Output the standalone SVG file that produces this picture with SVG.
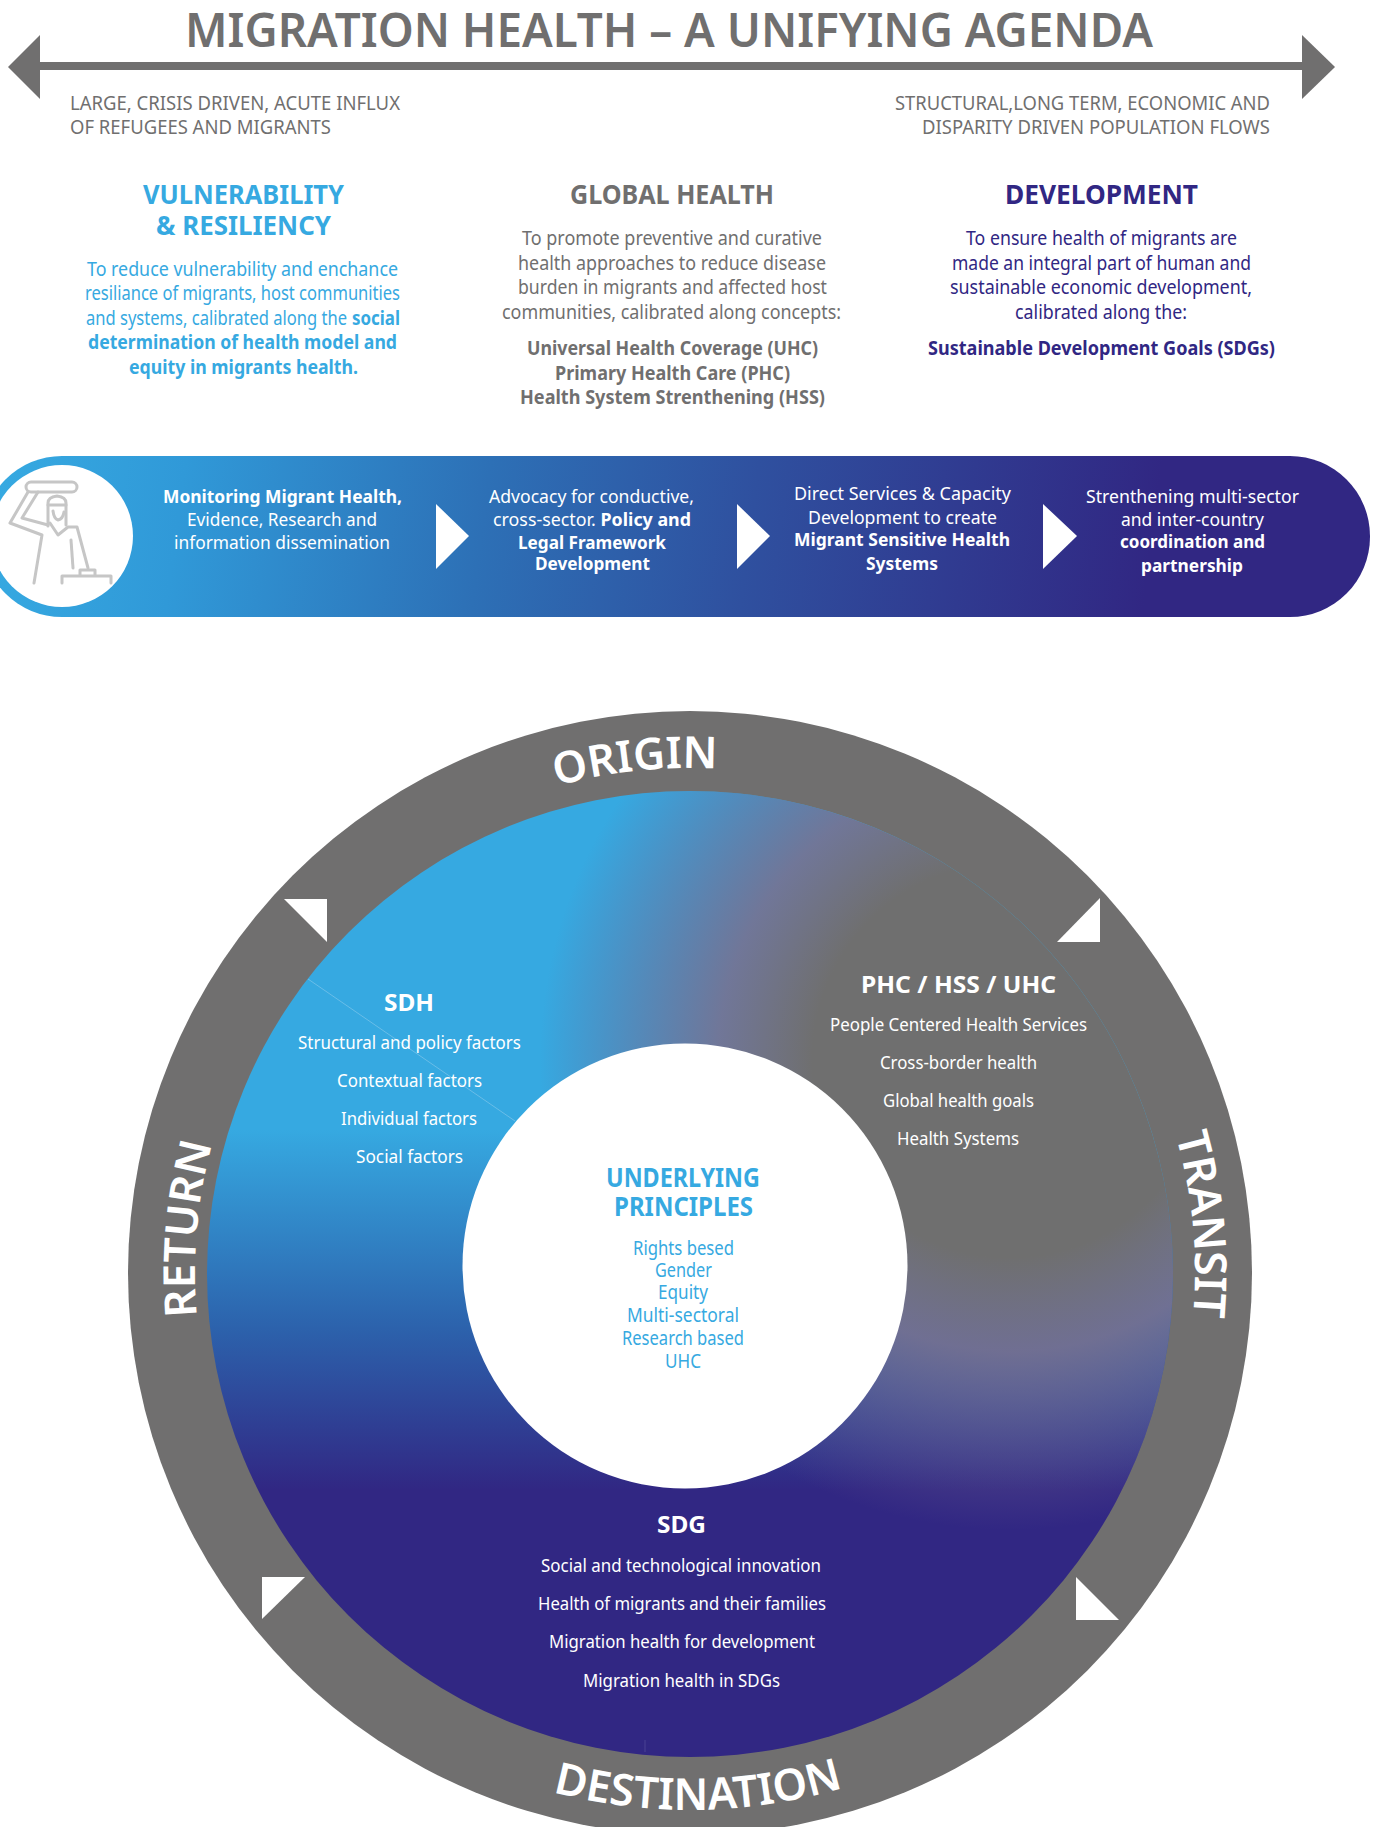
<svg xmlns="http://www.w3.org/2000/svg" width="1376" height="1827" viewBox="0 0 1376 1827">
<style>
text{font-family:"Noto Sans","Open Sans","Liberation Sans",sans-serif}
.g{fill:#706f6f}.b{fill:#36a9e1}.p{fill:#312783}.w{fill:#fff}
.h{font-size:26px;font-weight:700}
.t{font-size:19px}
.x{font-weight:700}
.band{font-size:18.5px;fill:#fff}
.lab{font-size:18px;fill:#fff}
.sub{font-size:24px;font-weight:700;fill:#fff}
.ring{font-size:44px;font-weight:600;fill:#fff}
.tri{fill:#fff}
.ico{fill:none;stroke:#c6c6c6;stroke-width:3;stroke-linecap:round;stroke-linejoin:round}
</style>
<defs>
<linearGradient id="bandG" gradientUnits="userSpaceOnUse" x1="0" y1="480" x2="1200" y2="640">
<stop offset="0" stop-color="#36a9e1"/><stop offset=".15" stop-color="#3099d8"/><stop offset=".4" stop-color="#2d70b6"/><stop offset=".62" stop-color="#2f509f"/><stop offset=".95" stop-color="#312783"/>
</linearGradient>
<linearGradient id="discG" gradientUnits="userSpaceOnUse" x1="0" y1="1130" x2="0" y2="1490">
<stop offset="0" stop-color="#36a9e1"/><stop offset=".55" stop-color="#2c62ac"/><stop offset="1" stop-color="#312783"/>
</linearGradient>
<radialGradient id="discR" gradientUnits="userSpaceOnUse" cx="1010" cy="1060" r="470">
<stop offset="0" stop-color="#6f6f6f"/><stop offset=".42" stop-color="#6f6f6f"/><stop offset=".62" stop-color="#777190" stop-opacity=".9"/><stop offset="1" stop-color="#6f5f90" stop-opacity="0"/>
</radialGradient>
<path id="cw" d="M690 1778A505 505 0 1 1 690 768A505 505 0 1 1 690 1778"/>
<path id="cwR" d="M690 1768A495 495 0 1 1 690 778A495 495 0 1 1 690 1768"/>
<path id="ccw" d="M153 1273A537 537 0 1 0 1227 1273"/>
</defs>

<g id="title">
<text x="185" y="47" textLength="968" lengthAdjust="spacingAndGlyphs" font-size="47" font-weight="600" class="g">MIGRATION HEALTH – A UNIFYING AGENDA</text>
</g>
<g id="connectors">
<rect x="38" y="62" width="1266" height="8" class="g"/>
<polygon points="8,67 40,35 40,99" class="g"/>
<polygon points="1302,35 1335,67 1302,99" class="g"/>
</g>
<g id="axis-labels" font-size="19" class="g">
<text x="70" y="110" textLength="330" lengthAdjust="spacingAndGlyphs" class="t g">LARGE, CRISIS DRIVEN, ACUTE INFLUX</text>
<text x="70" y="134" textLength="261" lengthAdjust="spacingAndGlyphs" class="t g">OF REFUGEES AND MIGRANTS</text>
<text x="895" y="110" textLength="375" lengthAdjust="spacingAndGlyphs" class="t g">STRUCTURAL,LONG TERM, ECONOMIC AND</text>
<text x="922" y="134" textLength="348" lengthAdjust="spacingAndGlyphs" class="t g">DISPARITY DRIVEN POPULATION FLOWS</text>
</g>

<g id="col-vulnerability">
<text x="143" y="204" textLength="201" lengthAdjust="spacingAndGlyphs" class="h b">VULNERABILITY</text>
<text x="156" y="235" textLength="175" lengthAdjust="spacingAndGlyphs" class="h b">&amp; RESILIENCY</text>
<text x="87" y="276" textLength="311" lengthAdjust="spacingAndGlyphs" class="t b">To reduce vulnerability and enchance</text>
<text x="85" y="300" textLength="315" lengthAdjust="spacingAndGlyphs" class="t b">resiliance of migrants, host communities</text>
<text x="86" y="325" textLength="261" lengthAdjust="spacingAndGlyphs" class="t b">and systems, calibrated along the</text>
<text x="352" y="325" textLength="48" lengthAdjust="spacingAndGlyphs" class="t x b">social</text>
<text x="88" y="349" textLength="309" lengthAdjust="spacingAndGlyphs" class="t x b">determination of health model and</text>
<text x="129" y="374" textLength="229" lengthAdjust="spacingAndGlyphs" class="t x b">equity in migrants health.</text>
</g>
<g id="col-global">
<text x="570" y="204" textLength="204" lengthAdjust="spacingAndGlyphs" class="h g">GLOBAL HEALTH</text>
<text x="522" y="245" textLength="300" lengthAdjust="spacingAndGlyphs" class="t g">To promote preventive and curative</text>
<text x="518" y="270" textLength="308" lengthAdjust="spacingAndGlyphs" class="t g">health approaches to reduce disease</text>
<text x="518" y="294" textLength="309" lengthAdjust="spacingAndGlyphs" class="t g">burden in migrants and affected host</text>
<text x="502" y="319" textLength="339" lengthAdjust="spacingAndGlyphs" class="t g">communities, calibrated along concepts:</text>
<text x="527" y="355" textLength="291" lengthAdjust="spacingAndGlyphs" class="t x g">Universal Health Coverage (UHC)</text>
<text x="555" y="380" textLength="235" lengthAdjust="spacingAndGlyphs" class="t x g">Primary Health Care (PHC)</text>
<text x="520" y="404" textLength="305" lengthAdjust="spacingAndGlyphs" class="t x g">Health System Strenthening (HSS)</text>
</g>
<g id="col-development">
<text x="1005" y="204" textLength="193" lengthAdjust="spacingAndGlyphs" class="h p">DEVELOPMENT</text>
<text x="966" y="245" textLength="271" lengthAdjust="spacingAndGlyphs" class="t p">To ensure health of migrants are</text>
<text x="952" y="270" textLength="299" lengthAdjust="spacingAndGlyphs" class="t p">made an integral part of human and</text>
<text x="950" y="294" textLength="302" lengthAdjust="spacingAndGlyphs" class="t p">sustainable economic development,</text>
<text x="1015" y="319" textLength="172" lengthAdjust="spacingAndGlyphs" class="t p">calibrated along the:</text>
<text x="928" y="355" textLength="347" lengthAdjust="spacingAndGlyphs" class="t x p">Sustainable Development Goals (SDGs)</text>
</g>

<g id="band">
<rect x="-18" y="456" width="1388" height="161" rx="80" fill="url(#bandG)"/>
<circle cx="62" cy="536" r="71" fill="#fff"/>
<g class="ico">
<rect x="26" y="482" width="51" height="10" rx="5"/>
<path d="M28 492L10 523L42 535L34 583"/>
<path d="M38 492L22 518L48 525"/>
<path d="M48 526V503Q48 497 57 496Q66 497 66 503V525"/>
<path d="M48 505H66M53 511Q54 519 58 520Q63 519 64 512"/>
<path d="M50 523L58 535L68 527H77L88 568"/>
<path d="M71 540L73 568"/>
<path d="M62 583V576H111V583M80 575V570H95V575"/>
</g>
<polygon class="tri" points="436,504 469,536 436,569"/>
<polygon class="tri" points="737,504 770,536 737,569"/>
<polygon class="tri" points="1043,504 1077,536 1043,569"/>
<text x="163" y="503" textLength="239" lengthAdjust="spacingAndGlyphs" class="band x">Monitoring Migrant Health,</text>
<text x="187" y="526" textLength="190" lengthAdjust="spacingAndGlyphs" class="band">Evidence, Research and</text>
<text x="174" y="549" textLength="216" lengthAdjust="spacingAndGlyphs" class="band">information dissemination</text>
<text x="489" y="503" textLength="205" lengthAdjust="spacingAndGlyphs" class="band">Advocacy for conductive,</text>
<text x="493" y="526" textLength="198" lengthAdjust="spacingAndGlyphs" class="band">cross-sector. <tspan class="x">Policy and</tspan></text>
<text x="518" y="549" textLength="148" lengthAdjust="spacingAndGlyphs" class="band x">Legal Framework</text>
<text x="535" y="570" textLength="115" lengthAdjust="spacingAndGlyphs" class="band x">Development</text>
<text x="794" y="500" textLength="217" lengthAdjust="spacingAndGlyphs" class="band">Direct Services &amp; Capacity</text>
<text x="808" y="524" textLength="189" lengthAdjust="spacingAndGlyphs" class="band">Development to create</text>
<text x="794" y="546" textLength="216" lengthAdjust="spacingAndGlyphs" class="band x">Migrant Sensitive Health</text>
<text x="866" y="570" textLength="72" lengthAdjust="spacingAndGlyphs" class="band x">Systems</text>
<text x="1086" y="503" textLength="213" lengthAdjust="spacingAndGlyphs" class="band">Strenthening multi-sector</text>
<text x="1121" y="526" textLength="143" lengthAdjust="spacingAndGlyphs" class="band">and inter-country</text>
<text x="1120" y="548" textLength="145" lengthAdjust="spacingAndGlyphs" class="band x">coordination and</text>
<text x="1141" y="572" textLength="102" lengthAdjust="spacingAndGlyphs" class="band x">partnership</text>
</g>

<g id="ring">
<circle cx="690" cy="1273" r="562" fill="#706f6f"/>
<polygon class="tri" points="284,899 327,899 327,942"/>
<polygon class="tri" points="1100,898 1100,942 1057,942"/>
<polygon class="tri" points="262,1577 305,1577 262,1619"/>
<polygon class="tri" points="1076,1577 1119,1620 1076,1620"/>
<text class="ring" text-anchor="middle"><textPath href="#cw" startOffset="48.3%">ORIGIN</textPath></text>
<text class="ring" text-anchor="middle"><textPath href="#cw" startOffset="73.5%">TRANSIT</textPath></text>
<text class="ring" text-anchor="middle"><textPath href="#cwR" startOffset="26.4%">RETURN</textPath></text>
<text class="ring" text-anchor="middle"><textPath href="#ccw" startOffset="50.5%">DESTINATION</textPath></text>
</g>
<g id="disc">
<circle cx="690" cy="1274" r="483" fill="url(#discG)"/>
<circle cx="690" cy="1274" r="483" fill="url(#discR)"/>
<line x1="308" y1="979" x2="515" y2="1121" stroke="#8ccbec" stroke-width=".6"/>
<line x1="645" y1="1740" x2="645" y2="1752" stroke="#5d55a0" stroke-width=".6"/>
</g>
<g id="sdh">
<text x="384" y="1011" textLength="50" lengthAdjust="spacingAndGlyphs" class="sub">SDH</text>
<text x="298" y="1049" textLength="223" lengthAdjust="spacingAndGlyphs" class="lab">Structural and policy factors</text>
<text x="337" y="1087" textLength="145" lengthAdjust="spacingAndGlyphs" class="lab">Contextual factors</text>
<text x="341" y="1125" textLength="136" lengthAdjust="spacingAndGlyphs" class="lab">Individual factors</text>
<text x="356" y="1163" textLength="107" lengthAdjust="spacingAndGlyphs" class="lab">Social factors</text>
</g>
<g id="phc">
<text x="861" y="993" textLength="195" lengthAdjust="spacingAndGlyphs" class="sub">PHC / HSS / UHC</text>
<text x="830" y="1031" textLength="257" lengthAdjust="spacingAndGlyphs" class="lab">People Centered Health Services</text>
<text x="880" y="1069" textLength="157" lengthAdjust="spacingAndGlyphs" class="lab">Cross-border health</text>
<text x="883" y="1107" textLength="151" lengthAdjust="spacingAndGlyphs" class="lab">Global health goals</text>
<text x="897" y="1145" textLength="122" lengthAdjust="spacingAndGlyphs" class="lab">Health Systems</text>
</g>
<g id="sdg">
<text x="657" y="1533" textLength="49" lengthAdjust="spacingAndGlyphs" class="sub">SDG</text>
<text x="541" y="1572" textLength="280" lengthAdjust="spacingAndGlyphs" class="lab">Social and technological innovation</text>
<text x="538" y="1610" textLength="288" lengthAdjust="spacingAndGlyphs" class="lab">Health of migrants and their families</text>
<text x="549" y="1648" textLength="266" lengthAdjust="spacingAndGlyphs" class="lab">Migration health for development</text>
<text x="583" y="1687" textLength="197" lengthAdjust="spacingAndGlyphs" class="lab">Migration health in SDGs</text>
</g>
<g id="principles">
<circle cx="685" cy="1266" r="222.5" fill="#fff"/>
<text x="606" y="1187" textLength="154" lengthAdjust="spacingAndGlyphs" class="h b">UNDERLYING</text>
<text x="614" y="1216" textLength="139" lengthAdjust="spacingAndGlyphs" class="h b">PRINCIPLES</text>
<text x="633" y="1255" textLength="101" lengthAdjust="spacingAndGlyphs" class="t b">Rights besed</text>
<text x="655" y="1277" textLength="57" lengthAdjust="spacingAndGlyphs" class="t b">Gender</text>
<text x="658" y="1299" textLength="50" lengthAdjust="spacingAndGlyphs" class="t b">Equity</text>
<text x="627" y="1322" textLength="112" lengthAdjust="spacingAndGlyphs" class="t b">Multi-sectoral</text>
<text x="622" y="1345" textLength="122" lengthAdjust="spacingAndGlyphs" class="t b">Research based</text>
<text x="665" y="1368" textLength="36" lengthAdjust="spacingAndGlyphs" class="t b">UHC</text>
</g>
</svg>
